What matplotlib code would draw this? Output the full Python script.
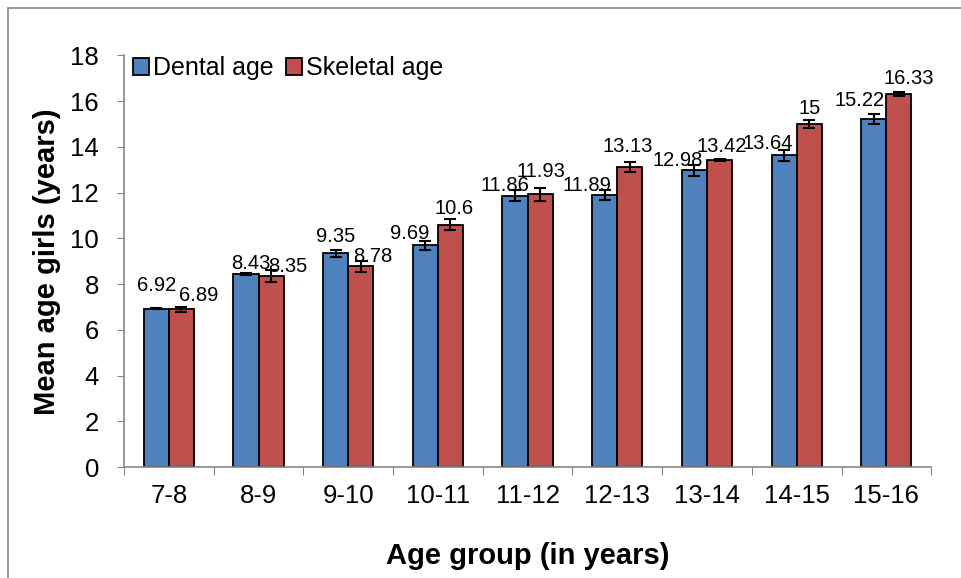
#!/usr/bin/env python3

import matplotlib
matplotlib.use('Agg')
import matplotlib.pyplot as plt
from matplotlib.patches import Rectangle
import numpy as np

# data
groups = ['7-8', '8-9', '9-10', '10-11', '11-12', '12-13', '13-14', '14-15', '15-16']
dental = [6.92, 8.43, 9.35, 9.69, 11.86, 11.89, 12.98, 13.64, 15.22]
skeletal = [6.89, 8.35, 8.78, 10.6, 11.93, 13.13, 13.42, 15, 16.33]
dental_err = [0.03, 0.04, 0.16, 0.18, 0.24, 0.22, 0.24, 0.24, 0.2]
skeletal_err = [0.13, 0.25, 0.24, 0.23, 0.28, 0.23, 0.04, 0.16, 0.09]

# label nudges (pixels) to mimic the Excel placement
dental_off = [(0, 23), (5, 11), (0, 17), (-16, 12), (-10, 10), (-18, 10), (-17, 10), (-16, 12), (-14, 19)]
skeletal_off = [(17, 14), (17, 10), (12, 10), (4, 16), (1, 23), (-2, 20), (2, 14), (0, 16), (10, 15)]

blue = '#4F81BD'
red = '#C0504D'
grey = '#868686'

plt.rcParams['font.family'] = ['Liberation Sans', 'DejaVu Sans']

fig = plt.figure(figsize=(9.61, 5.78), dpi=100)
ax = fig.add_axes([0.129, 0.192, 0.84, 0.712])

# outer chart border
fig.patches.append(Rectangle((8 / 961, -0.1), 1.2, (570 / 578) + 0.1, transform=fig.transFigure,
                             fill=False, edgecolor=grey, linewidth=1.2))

x = np.arange(len(groups))
w = 0.28
eb = dict(ecolor='black', elinewidth=1.5, capsize=4, capthick=1.5)
ax.bar(x - w / 2, dental, w, color=blue, edgecolor='black', linewidth=1.3,
       yerr=dental_err, error_kw=eb, label='Dental age', zorder=2)
ax.bar(x + w / 2, skeletal, w, color=red, edgecolor='black', linewidth=1.3,
       yerr=skeletal_err, error_kw=eb, label='Skeletal age', zorder=2)

for xs, vals, offs in [(x - w / 2, dental, dental_off), (x + w / 2, skeletal, skeletal_off)]:
    for xi, v, (dx, dy) in zip(xs, vals, offs):
        ax.annotate(f'{v:g}', xy=(xi, v), xytext=(dx, dy), textcoords='offset pixels',
                    ha='center', va='center', fontsize=14.5, zorder=3)

ax.set_xlim(-0.5, len(groups) - 0.5)
ax.set_ylim(0, 18)
ax.set_yticks(np.arange(0, 19, 2))
ax.set_xticks(np.arange(-0.5, len(groups)), minor=False)
ax.set_xticklabels([])
ax.set_xticks(x, minor=True)
ax.set_xticklabels(groups, minor=True)

for s in ['top', 'right']:
    ax.spines[s].set_visible(False)
for s in ['left', 'bottom']:
    ax.spines[s].set_color(grey)
    ax.spines[s].set_linewidth(1.2)

ax.tick_params(axis='y', which='major', direction='out', length=5, color=grey,
               labelsize=18.5, pad=13)
ax.tick_params(axis='x', which='major', direction='out', length=6, color=grey)
ax.tick_params(axis='x', which='minor', length=0, labelsize=18.5, pad=12)

ax.set_ylabel('Mean age girls (years)', fontsize=21, fontweight='bold', va='center')
ax.set_xlabel('Age group (in years)', fontsize=21, fontweight='bold', va='center')
ax.yaxis.set_label_coords(-0.095, 0.5)
ax.xaxis.set_label_coords(0.5, -0.216)

ax.legend(loc='upper left', bbox_to_anchor=(-0.008, 1.035), ncol=2, frameon=False,
          fontsize=18, handlelength=0.65, handleheight=0.65, handletextpad=0.15,
          columnspacing=0.5, borderaxespad=0.2)

fig.savefig('out.png', dpi=100)
